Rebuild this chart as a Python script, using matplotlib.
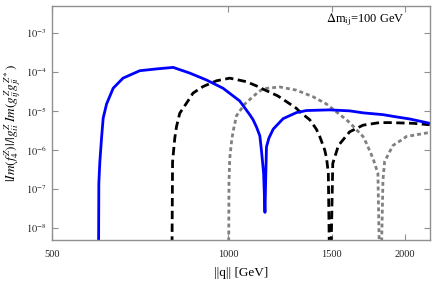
import numpy as np
import matplotlib
matplotlib.use("Agg")
import matplotlib.pyplot as plt
from matplotlib.ticker import FixedLocator, NullLocator, FixedFormatter

plt.rcParams['font.family'] = ['Liberation Serif', 'DejaVu Serif']
plt.rcParams['mathtext.fontset'] = 'stix'

# blue solid (threshold ~600 GeV)
q_blue = [600, 601.2, 603.6, 607.6, 611.5, 619.7, 636, 661, 706, 754, 805, 859, 917, 979,
          1045, 1087, 1101, 1116, 1131, 1138, 1148, 1154, 1158, 1161, 1172, 1192, 1239,
          1305, 1358, 1488, 1609, 1696, 1834, 1933, 2037, 2203]
f_blue = [1e-10, 1.4e-7, 5e-7, 2.0e-6, 6.5e-6, 1.5e-5, 3.8e-5, 6.9e-5, 1.07e-4, 1.19e-4,
          1.30e-4, 9.3e-5, 6.2e-5, 3.8e-5, 1.8e-5, 8e-6, 6e-6, 3.9e-6, 2.3e-6, 1.0e-6,
          2.5e-7, 2.5e-8, 2.5e-7, 1.2e-6, 2.0e-6, 3.4e-6, 6.3e-6, 9.0e-6, 1.02e-5, 1.06e-5,
          1.0e-5, 8.9e-6, 8.0e-6, 7.0e-6, 6.2e-6, 4.8e-6]

# black dashed (threshold ~800 GeV)
q_black = [800, 803, 810, 815.5, 826, 837, 859, 870, 905, 954, 1005, 1073, 1123, 1146,
           1215, 1305, 1322, 1376, 1412, 1431, 1459, 1470, 1480, 1490, 1506, 1540, 1609,
           1696, 1810, 1883, 2063, 2203]
f_black = [1e-10, 5e-7, 2.0e-6, 3.95e-6, 8.7e-6, 1.17e-5, 2.1e-5, 2.85e-5, 4.2e-5, 5.9e-5,
           6.9e-5, 5.6e-5, 4.2e-5, 3.6e-5, 2.4e-5, 1.17e-5, 9.6e-6, 5.9e-6, 3.4e-6, 2.2e-6,
           1.0e-6, 6e-7, 2.5e-7, 1e-10, 4.5e-7, 1.3e-6, 2.9e-6, 4.3e-6, 5.0e-6, 5.0e-6,
           4.8e-6, 4.4e-6]

# gray dotted (threshold ~1000 GeV)
q_gray = [1000, 1002, 1005, 1012, 1018, 1032, 1066, 1123, 1146, 1223, 1305, 1394, 1469,
          1589, 1609, 1696, 1718, 1764, 1798, 1815, 1834, 1846, 1883, 1908, 1984, 2011, 2203]
f_gray = [1e-10, 1.4e-7, 6e-7, 1.6e-6, 2.9e-6, 7.5e-6, 1.5e-5, 3.0e-5, 3.7e-5, 4.1e-5,
          3.4e-5, 2.3e-5, 1.5e-5, 5.9e-6, 5.0e-6, 2.2e-6, 1.5e-6, 6e-7, 2.5e-7, 1e-10,
          1.7e-7, 5e-7, 9e-7, 1.3e-6, 1.9e-6, 2.2e-6, 2.8e-6]

xticks = [500, 1000, 1500, 2000]
yticks = [1e-8, 1e-7, 1e-6, 1e-5, 1e-4, 1e-3]
ytick_labels = [r'$10^{-8}$', r'$10^{-7}$', r'$10^{-6}$', r'$10^{-5}$', r'$10^{-4}$', r'$10^{-3}$']

fig = plt.figure(figsize=(4.36, 2.82), dpi=100)
ax = fig.add_axes([0.119, 0.149, 0.867, 0.830])

ax.plot(q_gray, f_gray, color='#808080', lw=2.0, dashes=(1.4, 1.1))
ax.plot(q_black, f_black, color='black', lw=2.0, dashes=(3.0, 1.6))
ax.plot(q_blue, f_blue, color='#0000ff', lw=2.0, solid_joinstyle='round')

ax.set_xscale('log')
ax.set_yscale('log')
ax.set_xlim(500, 2205)
ax.set_ylim(4.9e-9, 4.9e-3)

ax.xaxis.set_major_locator(FixedLocator(xticks))
ax.xaxis.set_major_formatter(FixedFormatter([str(t) for t in xticks]))
ax.xaxis.set_minor_locator(NullLocator())
ax.yaxis.set_major_locator(FixedLocator(yticks))
ax.yaxis.set_major_formatter(FixedFormatter(ytick_labels))
ax.yaxis.set_minor_locator(NullLocator())

for s in ax.spines.values():
    s.set_color('#909090')
    s.set_linewidth(1.0)
ax.tick_params(which='both', direction='in', top=True, right=True, length=4,
               color='#909090', labelsize=7.5, labelcolor='#222222')
ax.tick_params(axis='x', pad=7)

ax.set_xlabel('||q|| [GeV]', fontsize=9.5, labelpad=6)
ax.set_ylabel(r'$|Im(f_4^Z)|/|g_{ii}^Z\,Im(g_{ij}^Z g_{ji}^{Z*})$', fontsize=9.5, labelpad=2)

ax.text(0.83, 0.94, r'$\Delta$m$_{\rm ij}$=100 GeV', transform=ax.transAxes,
        ha='center', va='center', fontsize=9)

fig.savefig('out.png', dpi=100)
